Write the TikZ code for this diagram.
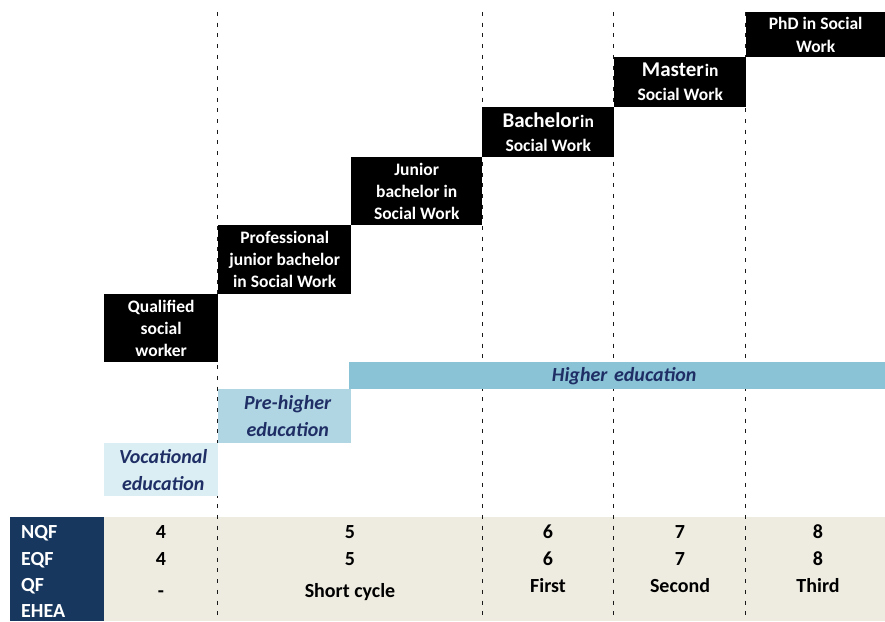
\documentclass[tikz,border=0pt]{standalone}
\usepackage{fontspec}
\setmainfont{Carlito}
\usepackage{xcolor}
\usepackage{tikz}
\usetikzlibrary{positioning}

\definecolor{headnavy}{HTML}{17375E}
\definecolor{tablebeige}{HTML}{EEECE1}
\definecolor{higherblue}{HTML}{8AC3D5}
\definecolor{preblue}{HTML}{B0D6E3}
\definecolor{vocblue}{HTML}{DAEEF3}
\definecolor{edutext}{HTML}{1F2F66}

\tikzset{
  degree/.style={fill=black, text=white, font=\bfseries\fontsize{17.5}{22}\selectfont,
    align=center, anchor=north west, inner sep=0pt},
  sector/.style={text=edutext, font=\bfseries\itshape\fontsize{20}{27}\selectfont,
    align=center, anchor=north west, inner sep=0pt},
  level/.style={font=\bfseries\fontsize{20}{24}\selectfont, anchor=base, inner sep=0pt},
  frame/.style={white, font=\bfseries\fontsize{20}{24}\selectfont, anchor=base west, inner sep=0pt},
  cycleline/.style={draw=black!90, line width=1pt, dash pattern=on 4pt off 6.7pt}
}

\begin{document}
\begin{tikzpicture}[x=1pt, y=-1pt]
    \useasboundingbox (0,0) rectangle (885,621);

    % Table background
    \fill[tablebeige] (104,517) rectangle (885,621);
    \fill[headnavy] (10,517) rectangle (104,621);

    % Cycle borders
    \draw[cycleline] (217.5,12) -- (217.5,621);
    \draw[cycleline] (482,12) -- (482,621);
    \draw[cycleline] (613.5,12) -- (613.5,621);
    \draw[cycleline] (745.5,12) -- (745.5,621);

    % Degrees
    \node[degree, minimum width=114pt, minimum height=68pt] (qsw) at (104,294) {Qualified\\social\\worker};
    \node[degree, minimum width=133pt, minimum height=69pt] (pjb) at (218,225) {Professional\\junior bachelor\\in Social Work};
    \node[degree, minimum width=131pt, minimum height=68pt] (jb) at (351,157) {Junior\\bachelor in\\Social Work};
    \node[degree, minimum width=132pt, minimum height=50pt, font=\bfseries\fontsize{17.5}{24}\selectfont] (bsw) at (482,107)
        {{\fontsize{21}{24}\selectfont Bachelor}\hspace{1pt}in\\Social Work};
    \node[degree, minimum width=132pt, minimum height=50pt, font=\bfseries\fontsize{17.5}{24}\selectfont] (msw) at (614,57)
        {{\fontsize{21}{24}\selectfont Master}\hspace{1pt}in\\Social Work};
    \node[degree, minimum width=139pt, minimum height=45pt, font=\bfseries\fontsize{17.5}{23}\selectfont] (phd) at (746,12) {PhD in Social\\Work};

    % Education sectors
    \node[sector, fill=higherblue, minimum width=536pt, minimum height=27pt, text width=536pt] (higher) at (349,362)
        {\hspace{14pt}Higher education};
    \node[sector, fill=preblue, minimum width=133pt, minimum height=54pt] (prehigher) at (218,389) {\hspace{6pt}Pre-higher\\\hspace{6pt}education};
    \node[sector, fill=vocblue, minimum width=114pt, minimum height=53pt] (vocational) at (104,443) {\hspace{4pt}Vocational\\\hspace{4pt}education};

    % Frameworks
    \node[frame] (nqf) at (21,538) {NQF};
    \node[frame] (eqf) at (21,565) {EQF};
    \node[frame] (qf) at (21,591.5) {QF};
    \node[frame] (ehea) at (21,617) {EHEA};

    % Levels
    \node[level] (nqf4) at (161,538) {4};
    \node[level] (eqf4) at (161,565) {4};
    \node[level] (qf4) at (161,597) {-};
    \node[level] (nqf5) at (350,538) {5};
    \node[level] (eqf5) at (350,565) {5};
    \node[level] (qf5) at (350,597) {Short cycle};
    \node[level] (nqf6) at (548,538) {6};
    \node[level] (eqf6) at (548,565) {6};
    \node[level] (qf6) at (548,592) {First};
    \node[level] (nqf7) at (680,538) {7};
    \node[level] (eqf7) at (680,565) {7};
    \node[level] (qf7) at (680,592) {Second};
    \node[level] (nqf8) at (818,538) {8};
    \node[level] (eqf8) at (818,565) {8};
    \node[level] (qf8) at (818,592) {Third};

\end{tikzpicture}
\end{document}
